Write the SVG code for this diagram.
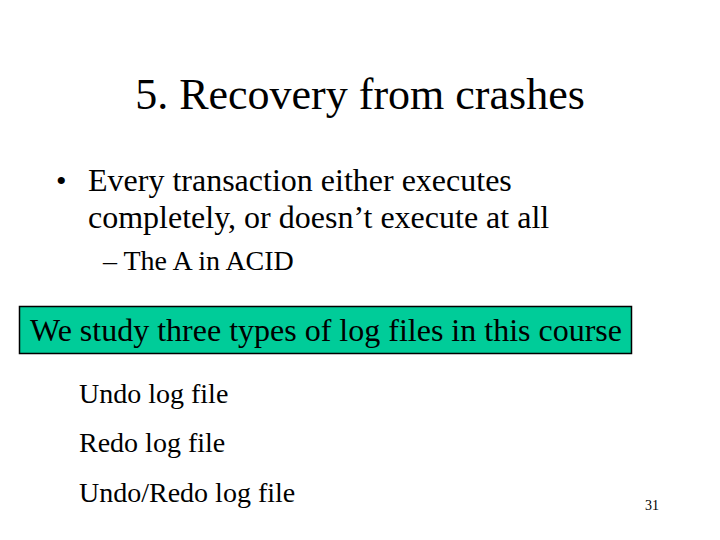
<svg xmlns="http://www.w3.org/2000/svg" width="720" height="540" viewBox="0 0 720 540">
<style>text{font-family:"Liberation Serif","Times New Roman",serif;fill:#000}</style>
<rect width="720" height="540" fill="#fff"/>
<text x="360" y="109" font-size="44" text-anchor="middle">5. Recovery from crashes</text>
<text x="56" y="191" font-size="30">•</text>
<text x="88" y="191" font-size="32">Every transaction either executes</text>
<text x="88" y="228" font-size="32">completely, or doesn’t execute at all</text>
<text x="103" y="270" font-size="28">– The A in ACID</text>
<rect x="19.5" y="306.5" width="612" height="47" fill="#00CC99" stroke="#000" stroke-width="1.5"/>
<text x="326" y="341" font-size="32" text-anchor="middle">We study three types of log files in this course</text>
<text x="79" y="403" font-size="28">Undo log file</text>
<text x="79" y="452" font-size="28">Redo log file</text>
<text x="79" y="502" font-size="28">Undo/Redo log file</text>
<text x="645" y="510" font-size="14">31</text>
</svg>
